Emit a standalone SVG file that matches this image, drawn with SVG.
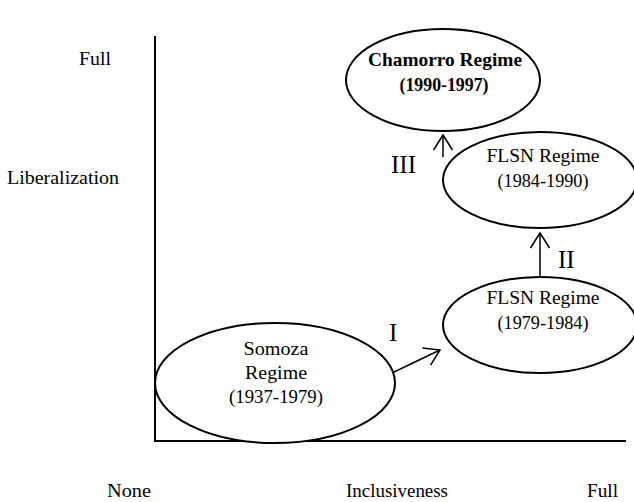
<svg xmlns="http://www.w3.org/2000/svg" width="634" height="502" viewBox="0 0 634 502">
<style>
text{font-family:"Liberation Serif","Times New Roman",serif;fill:#000}
.lbl{font-size:19px}
.node{font-size:19px;text-anchor:middle}
.b{font-weight:bold}
.num{font-size:25px}
ellipse{fill:#fff;stroke:#000;stroke-width:2}
.ax{stroke:#000;stroke-width:2;fill:none}
.c{stroke:#000;stroke-width:1.5;fill:none}
</style>
<defs>
<marker id="ah" viewBox="0 0 18 22" refX="16" refY="11" markerWidth="18" markerHeight="22" markerUnits="userSpaceOnUse" orient="auto">
<path d="M1,1.5 L16,11 L1,20.5" fill="none" stroke="#000" stroke-width="1.5"/>
</marker>
</defs>
<g id="axes">
<path class="ax" d="M155,36 V441 H626"/>
<text class="lbl" x="79" y="65" textLength="32" lengthAdjust="spacingAndGlyphs">Full</text>
<text class="lbl" x="7" y="184" textLength="112" lengthAdjust="spacingAndGlyphs">Liberalization</text>
<text class="lbl" x="107" y="497" textLength="44" lengthAdjust="spacingAndGlyphs">None</text>
<text class="lbl" x="346" y="497" textLength="102" lengthAdjust="spacingAndGlyphs">Inclusiveness</text>
<text class="lbl" x="587" y="497" textLength="31" lengthAdjust="spacingAndGlyphs">Full</text>
</g>
<g id="connectors">
<path class="c" d="M394,372 L440,350" marker-end="url(#ah)"/>
<path class="c" d="M540,277 V233" marker-end="url(#ah)"/>
<path class="c" d="M443,157 V135" marker-end="url(#ah)"/>
<text class="num" x="389" y="341">I</text>
<text class="num" x="558" y="268">II</text>
<text class="num" x="391" y="173">III</text>
</g>
<g id="somoza">
<ellipse cx="275" cy="383" rx="120" ry="60"/>
<text class="node" x="276" y="355" textLength="65" lengthAdjust="spacingAndGlyphs">Somoza</text>
<text class="node" x="276" y="379" textLength="62" lengthAdjust="spacingAndGlyphs">Regime</text>
<text class="node" x="276" y="403" textLength="94" lengthAdjust="spacingAndGlyphs">(1937-1979)</text>
</g>
<g id="flsn1979">
<ellipse cx="540" cy="325" rx="97" ry="48"/>
<text class="node" x="543" y="304" textLength="113" lengthAdjust="spacingAndGlyphs">FLSN Regime</text>
<text class="node" x="543" y="329" textLength="91" lengthAdjust="spacingAndGlyphs">(1979-1984)</text>
</g>
<g id="flsn1984">
<ellipse cx="540" cy="180" rx="97" ry="48"/>
<text class="node" x="543" y="162" textLength="113" lengthAdjust="spacingAndGlyphs">FLSN Regime</text>
<text class="node" x="543" y="187" textLength="91" lengthAdjust="spacingAndGlyphs">(1984-1990)</text>
</g>
<g id="chamorro">
<ellipse cx="443" cy="80" rx="97" ry="51"/>
<text class="node b" x="445" y="66" textLength="154" lengthAdjust="spacingAndGlyphs">Chamorro Regime</text>
<text class="node b" x="444" y="91" textLength="89" lengthAdjust="spacingAndGlyphs">(1990-1997)</text>
</g>
</svg>
